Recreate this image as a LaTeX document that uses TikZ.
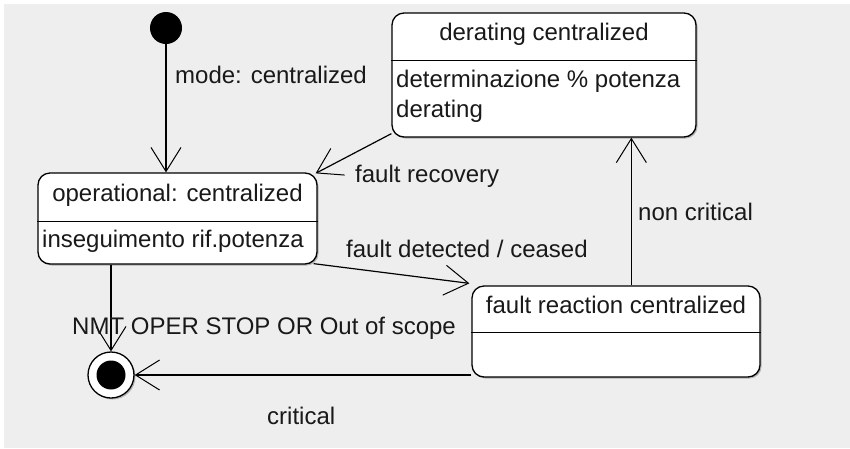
\documentclass[tikz,border=0pt]{standalone}
\usepackage{fontspec}
\setmainfont{Liberation Sans}
\usetikzlibrary{arrows.meta,shadows,calc}
\definecolor{bggray}{HTML}{EEEEEE}
\begin{document}
\begin{tikzpicture}[x=1pt,y=-1pt,
  statebox/.style={draw=black, line width=1.3pt, fill=white, rounded corners=12pt, inner sep=0pt,
    drop shadow={shadow xshift=1.5pt, shadow yshift=-1.5pt, fill=black, opacity=0.25}},
  lbl/.style={inner sep=0pt, font=\fontsize{24}{28}\selectfont, text=black!90},
  trans/.style={draw=black, line width=1.2pt, -{Straight Barb[length=24pt,width=30pt,line width=1pt]}},
  divider/.style={line width=1.3pt}]
\useasboundingbox (0,0) rectangle (850,448);
\fill[white] (0,0) rectangle (850,448);
\fill[bggray] (4,4) rectangle (850,448);

% states
\node[statebox, minimum width=279pt, minimum height=91pt] (op) at (177.5,218.5) {};
\draw[divider] ([yshift=-49pt]op.north west) -- ([yshift=-49pt]op.north east);
\node[statebox, minimum width=304pt, minimum height=124pt] (dr) at (544,75) {};
\draw[divider] ([yshift=-48pt]dr.north west) -- ([yshift=-48pt]dr.north east);
\node[statebox, minimum width=288pt, minimum height=91pt] (fr) at (616,331.5) {};
\draw[divider] ([yshift=-47pt]fr.north west) -- ([yshift=-47pt]fr.north east);

\node[circle, fill=black, minimum size=32pt, inner sep=0pt] (init) at (166,28) {};
\node[circle, draw=black, line width=1.3pt, fill=white, minimum size=46pt, inner sep=0pt,
  drop shadow={shadow xshift=1.5pt, shadow yshift=-1.5pt, fill=black, opacity=0.25}] (fin) at (111,375) {};
\node[circle, fill=black, minimum size=29pt, inner sep=0pt] (finI) at (fin) {};

% state texts
\node[lbl, anchor=base] (opT) at (177.5,201) {operational: centralized};
\node[lbl, anchor=base west] (opB) at (42,247) {inseguimento rif.potenza};
\node[lbl, anchor=base] (drT) at (544,40) {derating centralized};
\node[lbl, anchor=base west] (drB1) at (396,87) {determinazione \% potenza};
\node[lbl, anchor=base west] (drB2) at (396,117) {derating};
\node[lbl, anchor=base] (frT) at (616,313) {fault reaction centralized};

% transitions
\coordinate (ncS) at ([xshift=160pt]fr.north west);
\draw[trans] (init) -- (init |- op.north);
\draw[trans] ([yshift=4pt]dr.south west) -- ([xshift=-2pt,yshift=-1pt]op.north east);
\draw[trans] ([xshift=-4pt,yshift=1pt]op.south east) -- ([xshift=-2pt,yshift=2pt]fr.north west);
\draw[trans] (fin |- op.south) -- (fin);
\draw[trans] (fr.west |- fin) -- (fin);
\draw[trans] (ncS) -- (ncS |- dr.south);

% labels
\node[lbl, anchor=base west] (l1) at (175,83) {mode: centralized};
\node[lbl, anchor=base west] (l2) at (355,182) {fault recovery};
\node[lbl, anchor=base west] (l3) at (346,257) {fault detected / ceased};
\node[lbl, anchor=base west] (l4) at (638,220) {non critical};
\node[lbl, anchor=base west] (l5) at (72,334) {NMT OPER STOP OR Out of scope};
\node[lbl, anchor=base west] (l6) at (267,424) {critical};
\end{tikzpicture}
\end{document}
